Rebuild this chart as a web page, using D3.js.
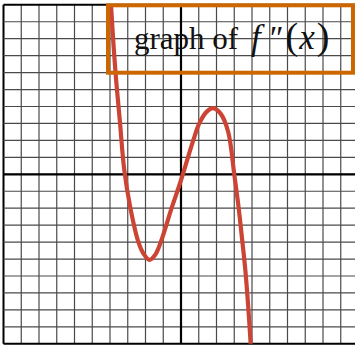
<!DOCTYPE html>
<html>
<head>
<meta charset="utf-8">
<script src="https://cdn.jsdelivr.net/npm/d3@7"></script>
<style>
  html, body { margin: 0; padding: 0; background: #fff; }
  svg { display: block; }
</style>
</head>
<body>
<svg id="chart"></svg>
<script>
// points (x, y in grid units)
const curveX = [-3.95, -3.8, -3.65, -3.45, -3.2, -2.85, -2.4, -2.1, -1.78, -1.45, -1.14, -0.53, 0, 0.69, 1.03, 1.45, 1.82, 2.25, 2.66, 3.0, 3.25, 3.45, 3.62, 3.78, 3.95];
const curveY = [10.1, 7.6, 5.5, 3.2, 0.3, -2.0, -4.0, -4.7, -5.05, -4.75, -4.0, -2.0, -0.35, 2.0, 3.0, 3.7, 3.9, 3.55, 2.5, 0, -2.0, -3.9, -5.6, -7.7, -10.4];
const gridTicks = d3.range(-10, 11);
const labelText = "graph of";

const width = 355, height = 348;

const svg = d3.select("#chart")
  .attr("width", width)
  .attr("height", height);

const x = d3.scaleLinear().domain([-10, 10]).range([3.5, 358.5]);
const y = d3.scaleLinear().domain([-10, 10]).range([343.8, 4.8]);

svg.append("defs").append("clipPath")
  .attr("id", "plot")
  .append("rect")
  .attr("x", x(-10)).attr("y", y(10))
  .attr("width", width - x(-10)).attr("height", y(-10) - y(10));

// grid
const grid = svg.append("g");
grid.selectAll(".vx")
  .data(gridTicks)
  .enter().append("line")
  .attr("x1", d => x(d)).attr("x2", d => x(d))
  .attr("y1", y(10)).attr("y2", y(-10))
  .attr("stroke", d => d === -10 ? "#000" : "#4a4a4a")
  .attr("stroke-width", d => d === -10 ? 2 : 1.2);
grid.selectAll(".hy")
  .data(gridTicks)
  .enter().append("line")
  .attr("x1", x(-10)).attr("x2", width)
  .attr("y1", d => y(d)).attr("y2", d => y(d))
  .attr("stroke", d => Math.abs(d) === 10 ? "#000" : "#4a4a4a")
  .attr("stroke-width", d => Math.abs(d) === 10 ? 2 : 1.2);

// axes
svg.append("line")
  .attr("x1", x(-10)).attr("x2", width)
  .attr("y1", y(0)).attr("y2", y(0))
  .attr("stroke", "#000").attr("stroke-width", 2.2);
svg.append("line")
  .attr("x1", x(0)).attr("x2", x(0))
  .attr("y1", y(10)).attr("y2", y(-10))
  .attr("stroke", "#000").attr("stroke-width", 2.2);

// curve
const pts = curveX.map((v, i) => [v, curveY[i]]);
const line = d3.line()
  .x(d => x(d[0]))
  .y(d => y(d[1]))
  .curve(d3.curveCatmullRom.alpha(0.5));

svg.append("path")
  .datum(pts)
  .attr("clip-path", "url(#plot)")
  .attr("d", line)
  .attr("fill", "none")
  .attr("stroke", "#cc4433")
  .attr("stroke-width", 4.2);

// label box
svg.append("rect")
  .attr("x", 108).attr("y", 5.3)
  .attr("width", 245).attr("height", 67.4)
  .attr("fill", "none")
  .attr("stroke", "#cc6600")
  .attr("stroke-width", 4);

const label = svg.append("text")
  .attr("x", 134).attr("y", 49)
  .attr("font-family", "'Liberation Serif', 'Times New Roman', serif")
  .attr("font-size", 31)
  .attr("fill", "#111");
label.append("tspan").text(labelText);
label.append("tspan").attr("x", 251).attr("font-style", "italic").attr("font-size", 35).text("f");
label.append("tspan").attr("font-style", "italic").attr("font-size", 33).attr("dx", 7).text("\u2033");
label.append("tspan").attr("font-size", 38).attr("dx", 4).text("(");
label.append("tspan").attr("font-style", "italic").attr("font-size", 35).attr("dx", 1).text("x");
label.append("tspan").attr("font-size", 38).attr("dx", 2).text(")");
</script>
</body>
</html>
